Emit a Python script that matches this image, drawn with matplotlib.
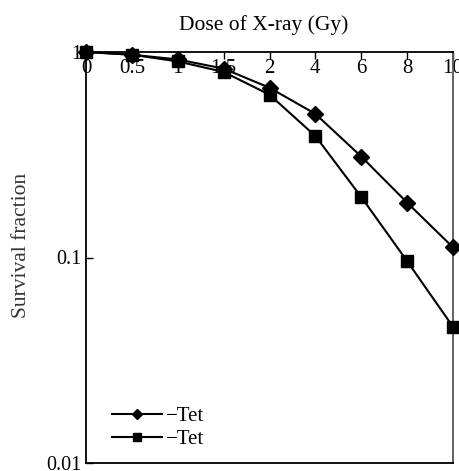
import matplotlib
matplotlib.use("Agg")
import matplotlib.pyplot as plt
import numpy as np

doses = ["0", "0.5", "1", "1.5", "2", "4", "6", "8", "10"]
series_a = [1.0, 0.97, 0.92, 0.83, 0.67, 0.50, 0.31, 0.185, 0.112]
series_b = [1.0, 0.97, 0.90, 0.80, 0.62, 0.39, 0.197, 0.096, 0.046]
labels = ["\u2212Tet", "\u2212Tet"]
yticks = [0.01, 0.1, 1]
ytick_labels = ["0.01", "0.1", "1"]

plt.rcParams['font.family'] = ['Liberation Serif', 'DejaVu Serif']

fig = plt.figure(figsize=(4.59, 4.71), dpi=100)
ax = fig.add_axes([86/459, 1-463/471, (453-86)/459, (463-52)/471])

x = np.arange(len(doses))
ax.plot(x, series_a, color='black', lw=1.5, marker='D', ms=8, clip_on=False, label=labels[0], zorder=3)
ax.plot(x, series_b, color='black', lw=1.5, marker='s', ms=8.5, clip_on=False, label=labels[1], zorder=3)

ax.set_yscale('log')
ax.set_ylim(0.01, 1)
ax.set_xlim(0, len(doses)-1)
ax.set_yticks(yticks)
ax.set_yticklabels(ytick_labels)
ax.yaxis.set_minor_locator(matplotlib.ticker.NullLocator())

ax.xaxis.tick_top()
ax.set_xticks(x)
ax.set_xticklabels(doses)
ax.tick_params(axis='x', direction='in', length=5, width=1, pad=-19, labelsize=15)
ax.tick_params(axis='y', direction='in', length=5, width=1, labelsize=14.5, pad=3.5)

for s in ['left', 'top', 'bottom']:
    ax.spines[s].set_linewidth(1.3)
ax.spines['right'].set_linewidth(1.3)
ax.spines['right'].set_color('#555555')

fig.text(264/459, 1-25/471, "Dose of X-ray (Gy)", ha='center', va='center', fontsize=15.5)
fig.text(22/459, 1-245/471, "Survival fraction", ha='center', va='center', rotation=90, fontsize=15.5, color='#333333')

leg = ax.legend(loc='lower left', bbox_to_anchor=(0.02, -0.012), frameon=False, fontsize=15,
                handlelength=2.4, handletextpad=0.2, labelspacing=0.15, markerscale=0.7)

fig.savefig("out.png", dpi=100)
